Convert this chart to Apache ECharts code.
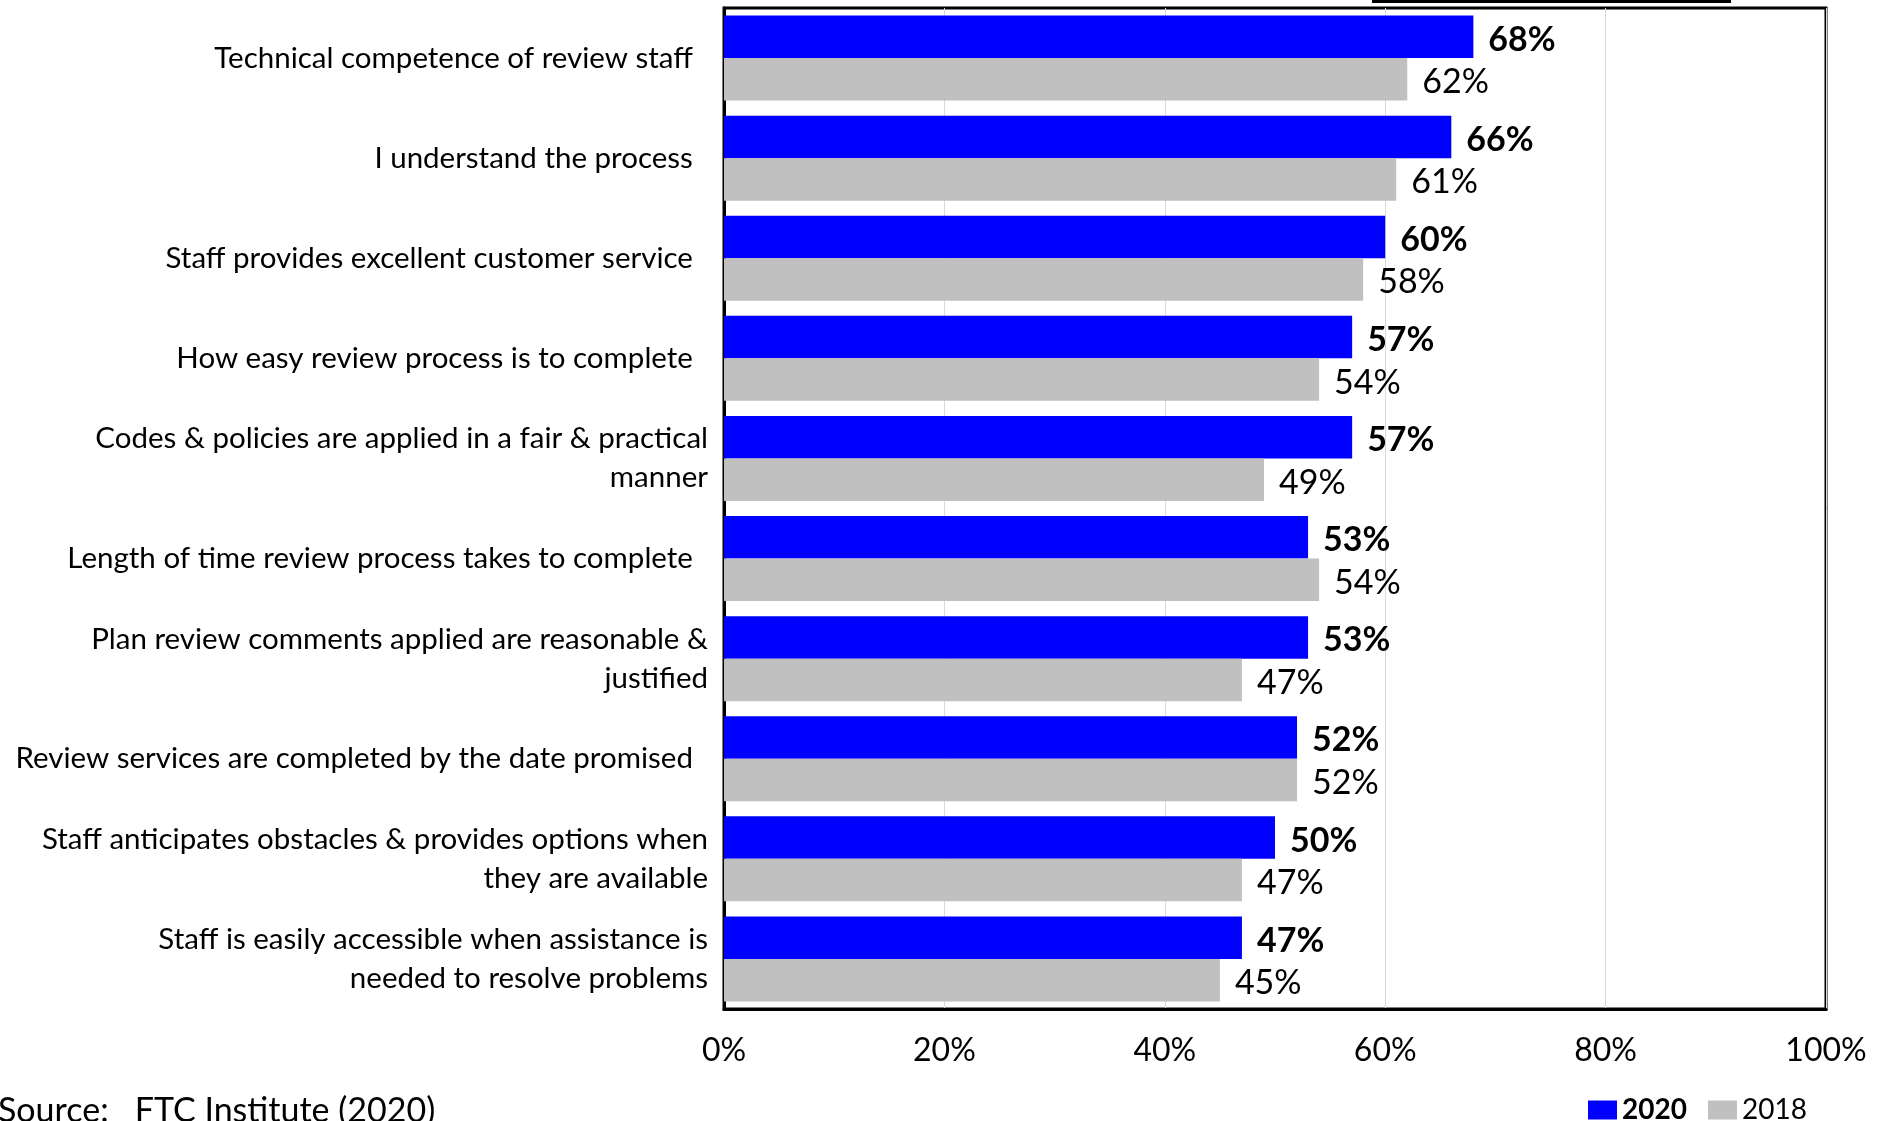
<!DOCTYPE html>
<html>
<head>
<meta charset="utf-8">
<style>
  html, body { margin: 0; padding: 0; background: #fff; }
  #chart { width: 1891px; height: 1121px; }
</style>
<script src="https://cdn.jsdelivr.net/npm/echarts@6/dist/echarts.min.js"></script>
</head>
<body>
<div id="chart"></div>
<script>
// Survey items (top to bottom)
const categories = [
  'Technical competence of review staff  ',
  'I understand the process  ',
  'Staff provides excellent customer service  ',
  'How easy review process is to complete  ',
  'Codes & policies are applied in a fair & practical\nmanner',
  'Length of time review process takes to complete  ',
  'Plan review comments applied are reasonable &\njustified',
  'Review services are completed by the date promised  ',
  'Staff anticipates obstacles & provides options when\nthey are available',
  'Staff is easily accessible when assistance is\nneeded to resolve problems'
];

// Percent satisfied by survey year
const values2020 = [68, 66, 60, 57, 57, 53, 53, 52, 50, 47];
const values2018 = [62, 61, 58, 54, 49, 54, 47, 52, 47, 45];

const xTicks = [0, 20, 40, 60, 80, 100];

const FONT = 'Lato';

const chart = echarts.init(document.getElementById('chart'), null, { renderer: 'canvas' });

chart.setOption({
  animation: false,
  backgroundColor: '#ffffff',
  textStyle: { fontFamily: FONT, color: '#000' },
  grid: {
    left: 724, right: 65, top: 8, bottom: 112,
    show: true, borderColor: '#000', borderWidth: 3,
    containLabel: false
  },
  legend: {
    left: 1583, top: 1091,
    icon: 'rect', itemWidth: 29, itemHeight: 19, itemGap: 21,
    data: ['2020', '2018'],
    formatter: n => n === '2020' ? '{b|2020}' : '{n|2018}',
    textStyle: {
      fontFamily: FONT,
      rich: {
        b: { fontFamily: FONT, fontSize: 28, fontWeight: 'bold', color: '#000' },
        n: { fontFamily: FONT, fontSize: 28, color: '#000' }
      }
    }
  },
  xAxis: {
    type: 'value', min: xTicks[0], max: xTicks[xTicks.length - 1], interval: 20,
    axisLine: { show: true, lineStyle: { color: '#000', width: 3 } },
    axisTick: { show: false },
    splitLine: { show: true, lineStyle: { color: '#d9d9d9', width: 1 } },
    axisLabel: {
      margin: 26, fontFamily: FONT, fontSize: 32, color: '#000',
      formatter: v => v + '%'
    }
  },
  yAxis: {
    type: 'category', inverse: true, data: categories,
    axisLine: { show: true, lineStyle: { color: '#000', width: 3 } },
    axisTick: { show: false },
    axisLabel: {
      margin: 16, fontFamily: FONT, fontSize: 29.5, lineHeight: 39, color: '#000',
      align: 'right'
    }
  },
  series: [
    {
      name: '2020', type: 'bar', data: values2020,
      barWidth: 42.5, barGap: '0%',
      itemStyle: { color: '#0000ff' },
      label: {
        show: true, position: 'right', distance: 15, offset: [0, 3],
        fontFamily: FONT, fontSize: 34, fontWeight: 'bold', color: '#000',
        formatter: p => p.value + '%'
      }
    },
    {
      name: '2018', type: 'bar', data: values2018,
      barWidth: 42.5, barGap: '0%',
      itemStyle: { color: '#c0c0c0' },
      label: {
        show: true, position: 'right', distance: 15, offset: [0, 3],
        fontFamily: FONT, fontSize: 34, color: '#000',
        formatter: p => p.value + '%'
      }
    }
  ],
  graphic: [
    {
      type: 'rect', left: 1372, top: 0,
      shape: { width: 359, height: 3 },
      style: { fill: '#000' }, silent: true
    },
    {
      type: 'text', x: -2, y: 1128,
      style: {
        text: 'Source:   FTC Institute (2020)',
        fontFamily: FONT, fontSize: 34, fill: '#000',
        textVerticalAlign: 'bottom'
      },
      silent: true
    }
  ]
});
</script>
</body>
</html>
